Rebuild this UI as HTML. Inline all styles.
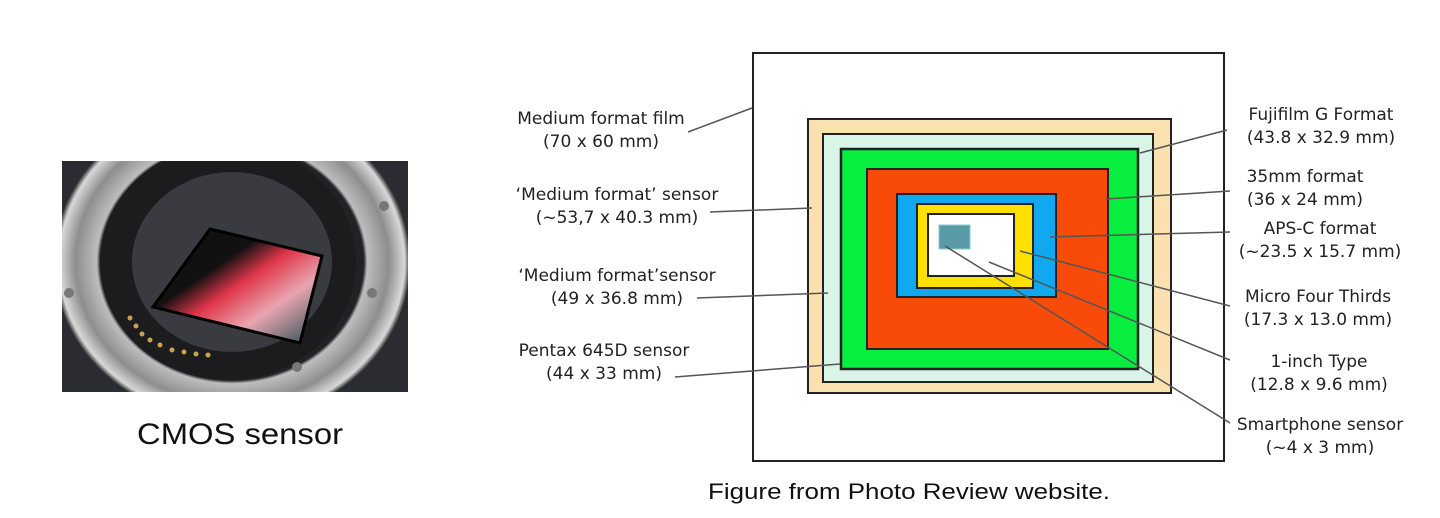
<!DOCTYPE html>
<html><head><meta charset="utf-8"><style>
body{margin:0;background:#fff;width:1440px;height:518px;overflow:hidden;font-family:"Liberation Sans",sans-serif}
svg{position:absolute;left:0;top:0}
</style></head><body>
<svg width="1440" height="518">
<defs>
<radialGradient id="ring" cx="50%" cy="50%" r="50%"><stop offset="0.74" stop-color="#222226"/><stop offset="0.76" stop-color="#bdbdbd"/><stop offset="0.88" stop-color="#8e8e8e"/><stop offset="0.97" stop-color="#d8d8d8"/><stop offset="1" stop-color="#333"/></radialGradient>
<linearGradient id="sens" x1="0" y1="0" x2="1" y2="1"><stop offset="0" stop-color="#111"/><stop offset="0.35" stop-color="#111"/><stop offset="0.5" stop-color="#e0364a"/><stop offset="0.7" stop-color="#e8a5b0"/><stop offset="1" stop-color="#1f4a4e"/></linearGradient>
<clipPath id="pc"><rect x="62" y="161" width="346" height="231"/></clipPath>
</defs>
<g clip-path="url(#pc)">
<rect x="62" y="161" width="346" height="231" fill="#2b2c31"/>
<ellipse cx="232" cy="262" rx="178" ry="160" fill="url(#ring)"/>
<ellipse cx="228" cy="262" rx="128" ry="118" fill="#1c1c1f"/>
<ellipse cx="232" cy="262" rx="100" ry="90" fill="#3a3b40"/>
<polygon points="210,229 322,256 300,343 153,307" fill="url(#sens)" stroke="#000" stroke-width="3"/>
<g fill="#c9a24a"><circle cx="130" cy="318" r="2.5"/><circle cx="136" cy="326" r="2.5"/><circle cx="142" cy="334" r="2.5"/><circle cx="150" cy="340" r="2.5"/><circle cx="160" cy="345" r="2.5"/><circle cx="172" cy="350" r="2.5"/><circle cx="184" cy="352" r="2.5"/><circle cx="196" cy="354" r="2.5"/><circle cx="208" cy="355" r="2.5"/></g>
<g fill="#777"><circle cx="384" cy="206" r="5"/><circle cx="69" cy="293" r="5"/><circle cx="297" cy="367" r="5"/><circle cx="372" cy="293" r="5"/></g>
</g>
<text x="137" y="444" font-size="30" textLength="206" lengthAdjust="spacingAndGlyphs" fill="#111">CMOS sensor</text>
<g stroke="#222" stroke-width="2">
<rect x="753" y="53" width="471" height="408" fill="#fff"/>
<rect x="808" y="119" width="363" height="274" fill="#fbe0b0"/>
<rect x="823" y="134" width="330" height="248" fill="#d8f5e8"/>
<rect x="841" y="149" width="297" height="220" fill="#08ee3e" stroke-width="2.5"/>
<rect x="867" y="169" width="241" height="180" fill="#f84a08"/>
<rect x="897" y="194" width="159" height="103" fill="#12a8f0"/>
<rect x="917" y="204" width="116" height="84" fill="#ffe000"/>
<rect x="928" y="214" width="86" height="62" fill="#fff"/>
<rect x="939" y="225" width="31" height="24" fill="#5a9aa6" stroke="#8cc" stroke-width="1"/>
</g>
<g stroke="#555" stroke-width="1.5">
<line x1="688" y1="132" x2="752" y2="108"/><line x1="710" y1="212" x2="812" y2="208"/>
<line x1="697" y1="298" x2="828" y2="293"/><line x1="675" y1="377" x2="840" y2="364"/>
<line x1="1227" y1="130" x2="1140" y2="153"/><line x1="1230" y1="191" x2="1106" y2="199"/>
<line x1="1230" y1="232" x2="1050" y2="237"/><line x1="1230" y1="306" x2="1020" y2="251"/>
<line x1="1230" y1="360" x2="989" y2="262"/><line x1="1230" y1="423" x2="945" y2="246"/>
</g>
<g font-size="17" font-family="DejaVu Sans, sans-serif" fill="#222" text-anchor="middle">
<text x="601" y="124">Medium format film</text><text x="601" y="147">(70 x 60 mm)</text>
<text x="617" y="200">‘Medium format’ sensor</text><text x="617" y="223">(~53,7 x 40.3 mm)</text>
<text x="617" y="281">‘Medium format’sensor</text><text x="617" y="304">(49 x 36.8 mm)</text>
<text x="604" y="356">Pentax 645D sensor</text><text x="604" y="379">(44 x 33 mm)</text>
<text x="1321" y="120">Fujifilm G Format</text><text x="1321" y="143">(43.8 x 32.9 mm)</text>
<text x="1305" y="182">35mm format</text><text x="1305" y="205">(36 x 24 mm)</text>
<text x="1320" y="234">APS-C format</text><text x="1320" y="257">(~23.5 x 15.7 mm)</text>
<text x="1318" y="302">Micro Four Thirds</text><text x="1318" y="325">(17.3 x 13.0 mm)</text>
<text x="1319" y="367">1-inch Type</text><text x="1319" y="390">(12.8 x 9.6 mm)</text>
<text x="1320" y="430">Smartphone sensor</text><text x="1320" y="453">(~4 x 3 mm)</text>
</g>
<text x="708" y="499" font-size="22" textLength="402" lengthAdjust="spacingAndGlyphs" fill="#111">Figure from Photo Review website.</text>
</svg>
</body></html>
